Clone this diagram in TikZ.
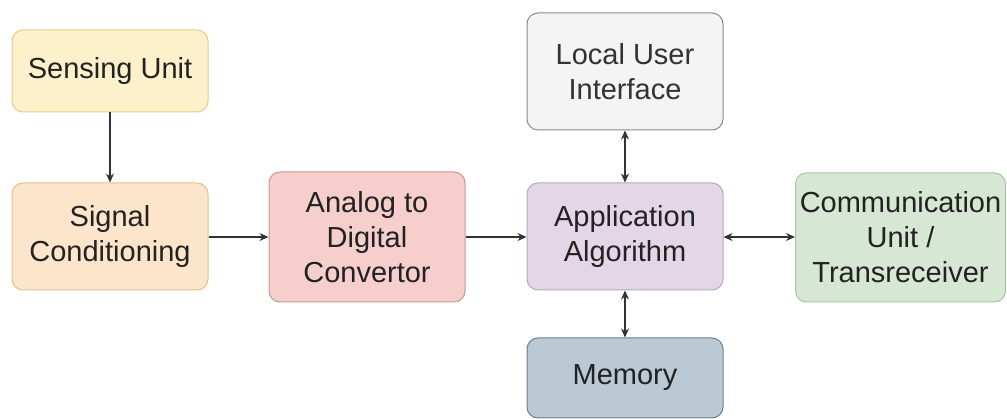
\documentclass[tikz,border=0pt]{standalone}
\usepackage{fontspec}
\setmainfont{Liberation Sans}
\usetikzlibrary{arrows.meta}
\definecolor{yelF}{HTML}{FDF1CC}\definecolor{yelD}{HTML}{E2CC8E}
\definecolor{orgF}{HTML}{FCE5CB}\definecolor{orgD}{HTML}{E2C08E}
\definecolor{redF}{HTML}{F6CFCD}\definecolor{redD}{HTML}{C99592}
\definecolor{gryF}{HTML}{F4F4F4}\definecolor{gryD}{HTML}{8A8A8A}
\definecolor{purF}{HTML}{E3D7E7}\definecolor{purD}{HTML}{B9A5BF}
\definecolor{grnF}{HTML}{D6E8D4}\definecolor{grnD}{HTML}{A9C4A4}
\definecolor{bluF}{HTML}{BBC9D4}\definecolor{bluD}{HTML}{6C7F8C}
\definecolor{txt}{HTML}{222222}
\definecolor{lnc}{HTML}{333333}
\tikzset{
  blk/.style={draw, line width=1pt, rounded corners=11pt, align=center, inner sep=0pt,
    font=\fontsize{29}{35}\selectfont, text=txt},
  arr/.style={draw=lnc, line width=1.2pt, -{Stealth[length=9pt,width=8pt]}},
  darr/.style={draw=lnc, line width=1.2pt, {Stealth[length=9pt,width=8pt]}-{Stealth[length=9pt,width=8pt]}}
}
\begin{document}
\begin{tikzpicture}[x=1pt,y=-1pt]
\useasboundingbox (0,0) rectangle (1007,419);
\node[blk, fill=yelF, draw=yelD, minimum width=196pt, minimum height=82pt] (sense) at (110,71) {Sensing Unit};
\node[blk, fill=orgF, draw=orgD, minimum width=196pt, minimum height=107pt] (sig) at (110,236.5) {Signal\\Conditioning};
\node[blk, fill=redF, draw=redD, minimum width=196pt, minimum height=130pt] (adc) at (367,237) {Analog to\\Digital\\Convertor};
\node[blk, fill=gryF, draw=gryD, minimum width=196pt, minimum height=117pt, text=lnc] (lui) at (625,71.5) {Local User\\Interface};
\node[blk, fill=purF, draw=purD, minimum width=196pt, minimum height=107pt] (app) at (625,236.5) {Application\\Algorithm};
\node[blk, fill=grnF, draw=grnD, minimum width=210pt, minimum height=129pt] (com) at (900.5,237.5) {Communication\\Unit /\\Transreceiver};
\node[blk, fill=bluF, draw=bluD, minimum width=196pt, minimum height=80pt] (mem) at (625,378) {Memory};
\draw[arr] (sense) -- (sig);
\draw[arr] (sig.east |- 0,237) -- (adc.west |- 0,237);
\draw[arr] (adc.east |- 0,237) -- (app.west |- 0,237);
\draw[darr] (app.east |- 0,237) -- (com.west |- 0,237);
\draw[darr] (app) -- (lui);
\draw[darr] (app) -- (mem);
\end{tikzpicture}
\end{document}
